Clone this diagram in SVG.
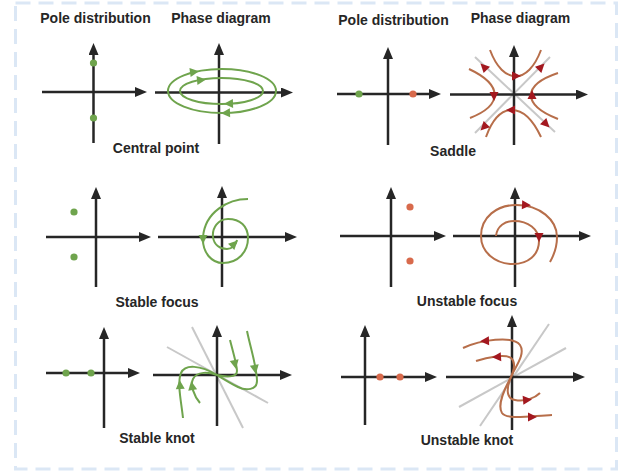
<svg xmlns="http://www.w3.org/2000/svg" xmlns:xlink="http://www.w3.org/1999/xlink" width="626" height="473" viewBox="0 0 626 473">
<style>
.t{font-family:"Liberation Sans",Arial,sans-serif;font-weight:bold;font-size:14px;fill:#262626;text-anchor:middle}
.ax{stroke:#262626;stroke-width:2.5;fill:none;marker-end:url(#arr)}
.g{stroke:#6fa44d;stroke-width:2;fill:none}
.b{stroke:#b76e4a;stroke-width:2;fill:none}
.gr{stroke:#c8c8c8;stroke-width:2;fill:none}
.gd{fill:#6fa44d}
.rd{fill:#d86a4c}
.ga{fill:#6fa44d}
.ra{fill:#a3181f}
</style>
<defs>
<marker id="arr" viewBox="0 0 12 10" refX="6" refY="5" markerWidth="12" markerHeight="10" markerUnits="userSpaceOnUse" orient="auto">
<path d="M0,0 L12,5 L0,10 Z" fill="#262626"/>
</marker>
<path id="ah" d="M5,0 L-4,-4.5 L-4,4.5 Z"/>
</defs>
<rect x="15.5" y="3" width="601" height="466" fill="none" stroke="#dbe7f5" stroke-width="3" stroke-dasharray="15 8"/>

<g id="central-point">
<text class="t" x="95.5" y="23">Pole distribution</text>
<text class="t" x="221" y="23">Phase diagram</text>
<line class="ax" x1="42" y1="92" x2="141" y2="92"/>
<line class="ax" x1="93.5" y1="143" x2="93.5" y2="49"/>
<circle class="gd" cx="93.5" cy="63" r="3.6"/>
<circle class="gd" cx="93.5" cy="118" r="3.6"/>
<line class="ax" x1="155" y1="92.5" x2="287" y2="92.5"/>
<line class="ax" x1="219" y1="144" x2="219" y2="49"/>
<ellipse class="g" cx="222" cy="91" rx="54" ry="22"/>
<ellipse class="g" cx="221.5" cy="91" rx="41.5" ry="13"/>
<use href="#ah" class="ga" transform="translate(194,72) rotate(-8)"/>
<use href="#ah" class="ga" transform="translate(201,80) rotate(-6)"/>
<use href="#ah" class="ga" transform="translate(229,103.7) rotate(178)"/>
<use href="#ah" class="ga" transform="translate(226,113) rotate(178)"/>
<text class="t" x="156" y="153">Central point</text>
</g>

<g id="saddle">
<text class="t" x="393.5" y="25">Pole distribution</text>
<text class="t" x="520.5" y="23">Phase diagram</text>
<line class="ax" x1="337" y1="94" x2="435" y2="94"/>
<line class="ax" x1="388" y1="145" x2="388" y2="53"/>
<circle class="gd" cx="359" cy="94" r="3.6"/>
<circle class="rd" cx="413" cy="94" r="3.6"/>
<line class="gr" x1="475" y1="57" x2="555" y2="132"/>
<line class="gr" x1="550" y1="57" x2="475" y2="133"/>
<line class="ax" x1="450" y1="94.5" x2="582" y2="94.5"/>
<line class="ax" x1="514" y1="145" x2="514" y2="51"/>
<path class="b" d="M490,50 C503,85 528,85 541,50"/>
<path class="b" d="M469,69 C503,85 503,105 470,118"/>
<path class="b" d="M558,73 C522,85 522,105 558,119"/>
<path class="b" d="M486,137 C499,101 524,101 541,137"/>
<use href="#ah" class="ra" transform="translate(484,67) rotate(-135)"/>
<use href="#ah" class="ra" transform="translate(541,67) rotate(-45)"/>
<use href="#ah" class="ra" transform="translate(484,127) rotate(135)"/>
<use href="#ah" class="ra" transform="translate(546,124) rotate(45)"/>
<use href="#ah" class="ra" transform="translate(516,76) rotate(0)"/>
<use href="#ah" class="ra" transform="translate(494,96) rotate(90)"/>
<use href="#ah" class="ra" transform="translate(532,95) rotate(-90)"/>
<use href="#ah" class="ra" transform="translate(511,110) rotate(180)"/>
<text class="t" x="453" y="156">Saddle</text>
</g>

<g id="stable-focus">
<line class="ax" x1="46" y1="237" x2="145" y2="237"/>
<line class="ax" x1="96" y1="287" x2="96" y2="193"/>
<circle class="gd" cx="74" cy="212" r="3.6"/>
<circle class="gd" cx="74" cy="257" r="3.6"/>
<line class="ax" x1="158" y1="237" x2="291" y2="237"/>
<line class="ax" x1="222" y1="287" x2="222" y2="192"/>
<path class="g" d="M248,199 C228,199 205,212 203,237 C202,253 212,263 223,263 C238,263 248,252 248,238 C248,226 240,219 228,219 C218,219 212,228 213,237 C214,245 220,249 227,249 C232,249 236,245 237,240"/>
<use href="#ah" class="ga" transform="translate(203,239) rotate(90)"/>
<use href="#ah" class="ga" transform="translate(234,244) rotate(-45)"/>
<text class="t" x="157" y="307">Stable focus</text>
</g>

<g id="unstable-focus">
<line class="ax" x1="340" y1="236" x2="440" y2="236"/>
<line class="ax" x1="391" y1="287" x2="391" y2="193"/>
<circle class="rd" cx="410" cy="207" r="3.6"/>
<circle class="rd" cx="410" cy="261" r="3.6"/>
<line class="ax" x1="453" y1="236" x2="585" y2="236"/>
<line class="ax" x1="515" y1="287" x2="515" y2="193"/>
<path class="b" d="M496,236 C497,226 505,221 514,221 C528,221 539,229 539,241 C539,255 528,264 513,264 C495,264 481,252 481,236 C481,217 497,205 516,205 C540,205 557,220 557,237 C557,248 554,255 550,262"/>
<use href="#ah" class="ra" transform="translate(539,237) rotate(90)"/>
<use href="#ah" class="ra" transform="translate(526,205) rotate(3)"/>
<text class="t" x="467" y="306">Unstable focus</text>
</g>

<g id="stable-knot">
<line class="ax" x1="46" y1="373" x2="134" y2="373"/>
<line class="ax" x1="104" y1="428" x2="104" y2="333"/>
<circle class="gd" cx="66" cy="373" r="3.6"/>
<circle class="gd" cx="91" cy="373" r="3.6"/>
<line class="gr" x1="192" y1="327" x2="243" y2="428"/>
<line class="gr" x1="167" y1="347" x2="268" y2="403"/>
<line class="ax" x1="153" y1="375" x2="286" y2="375"/>
<line class="ax" x1="217" y1="426" x2="217" y2="331"/>
<path class="g" d="M183,418 C181,400 177,383 181,373 C185,364 200,365 217,375"/>
<path class="g" d="M200,403 C194,396 190,385 193,379 C197,371 209,372 217,375"/>
<path class="g" d="M230,340 C233,352 237,365 237,371 C237,378 225,377 217,375"/>
<path class="g" d="M247,331 C251,350 257,368 257,381 C257,390 246,391 238,387 C230,383 222,378 217,375"/>
<use href="#ah" class="ga" transform="translate(180,385) rotate(-94)"/>
<use href="#ah" class="ga" transform="translate(192,386) rotate(-100)"/>
<use href="#ah" class="ga" transform="translate(235,364) rotate(78)"/>
<use href="#ah" class="ga" transform="translate(255,369) rotate(80)"/>
<text class="t" x="157" y="443">Stable knot</text>
</g>

<g id="unstable-knot">
<line class="ax" x1="341" y1="377" x2="431" y2="377"/>
<line class="ax" x1="365" y1="425" x2="365" y2="331"/>
<circle class="rd" cx="380" cy="377" r="3.6"/>
<circle class="rd" cx="400" cy="377" r="3.6"/>
<line class="gr" x1="549" y1="324" x2="480" y2="426"/>
<line class="gr" x1="566" y1="348" x2="459" y2="407"/>
<line class="ax" x1="446" y1="377" x2="579" y2="377"/>
<line class="ax" x1="512" y1="430" x2="512" y2="321"/>
<path class="b" d="M511,377 C515,367 526,354 520,345 C513,335 480,340 463,348"/>
<path class="b" d="M511,377 C514,370 516,362 511,358 C505,354 488,357 476,361"/>
<path class="b" d="M511,377 C507,387 505,398 515,400 C525,402 535,398 540,393"/>
<path class="b" d="M511,377 C504,390 497,405 502,413 C507,420 530,416 552,415"/>
<use href="#ah" class="ra" transform="translate(485,341) rotate(178)"/>
<use href="#ah" class="ra" transform="translate(497,357) rotate(176)"/>
<use href="#ah" class="ra" transform="translate(527,400) rotate(-5)"/>
<use href="#ah" class="ra" transform="translate(532,417) rotate(0)"/>
<text class="t" x="467" y="445">Unstable knot</text>
</g>
</svg>
